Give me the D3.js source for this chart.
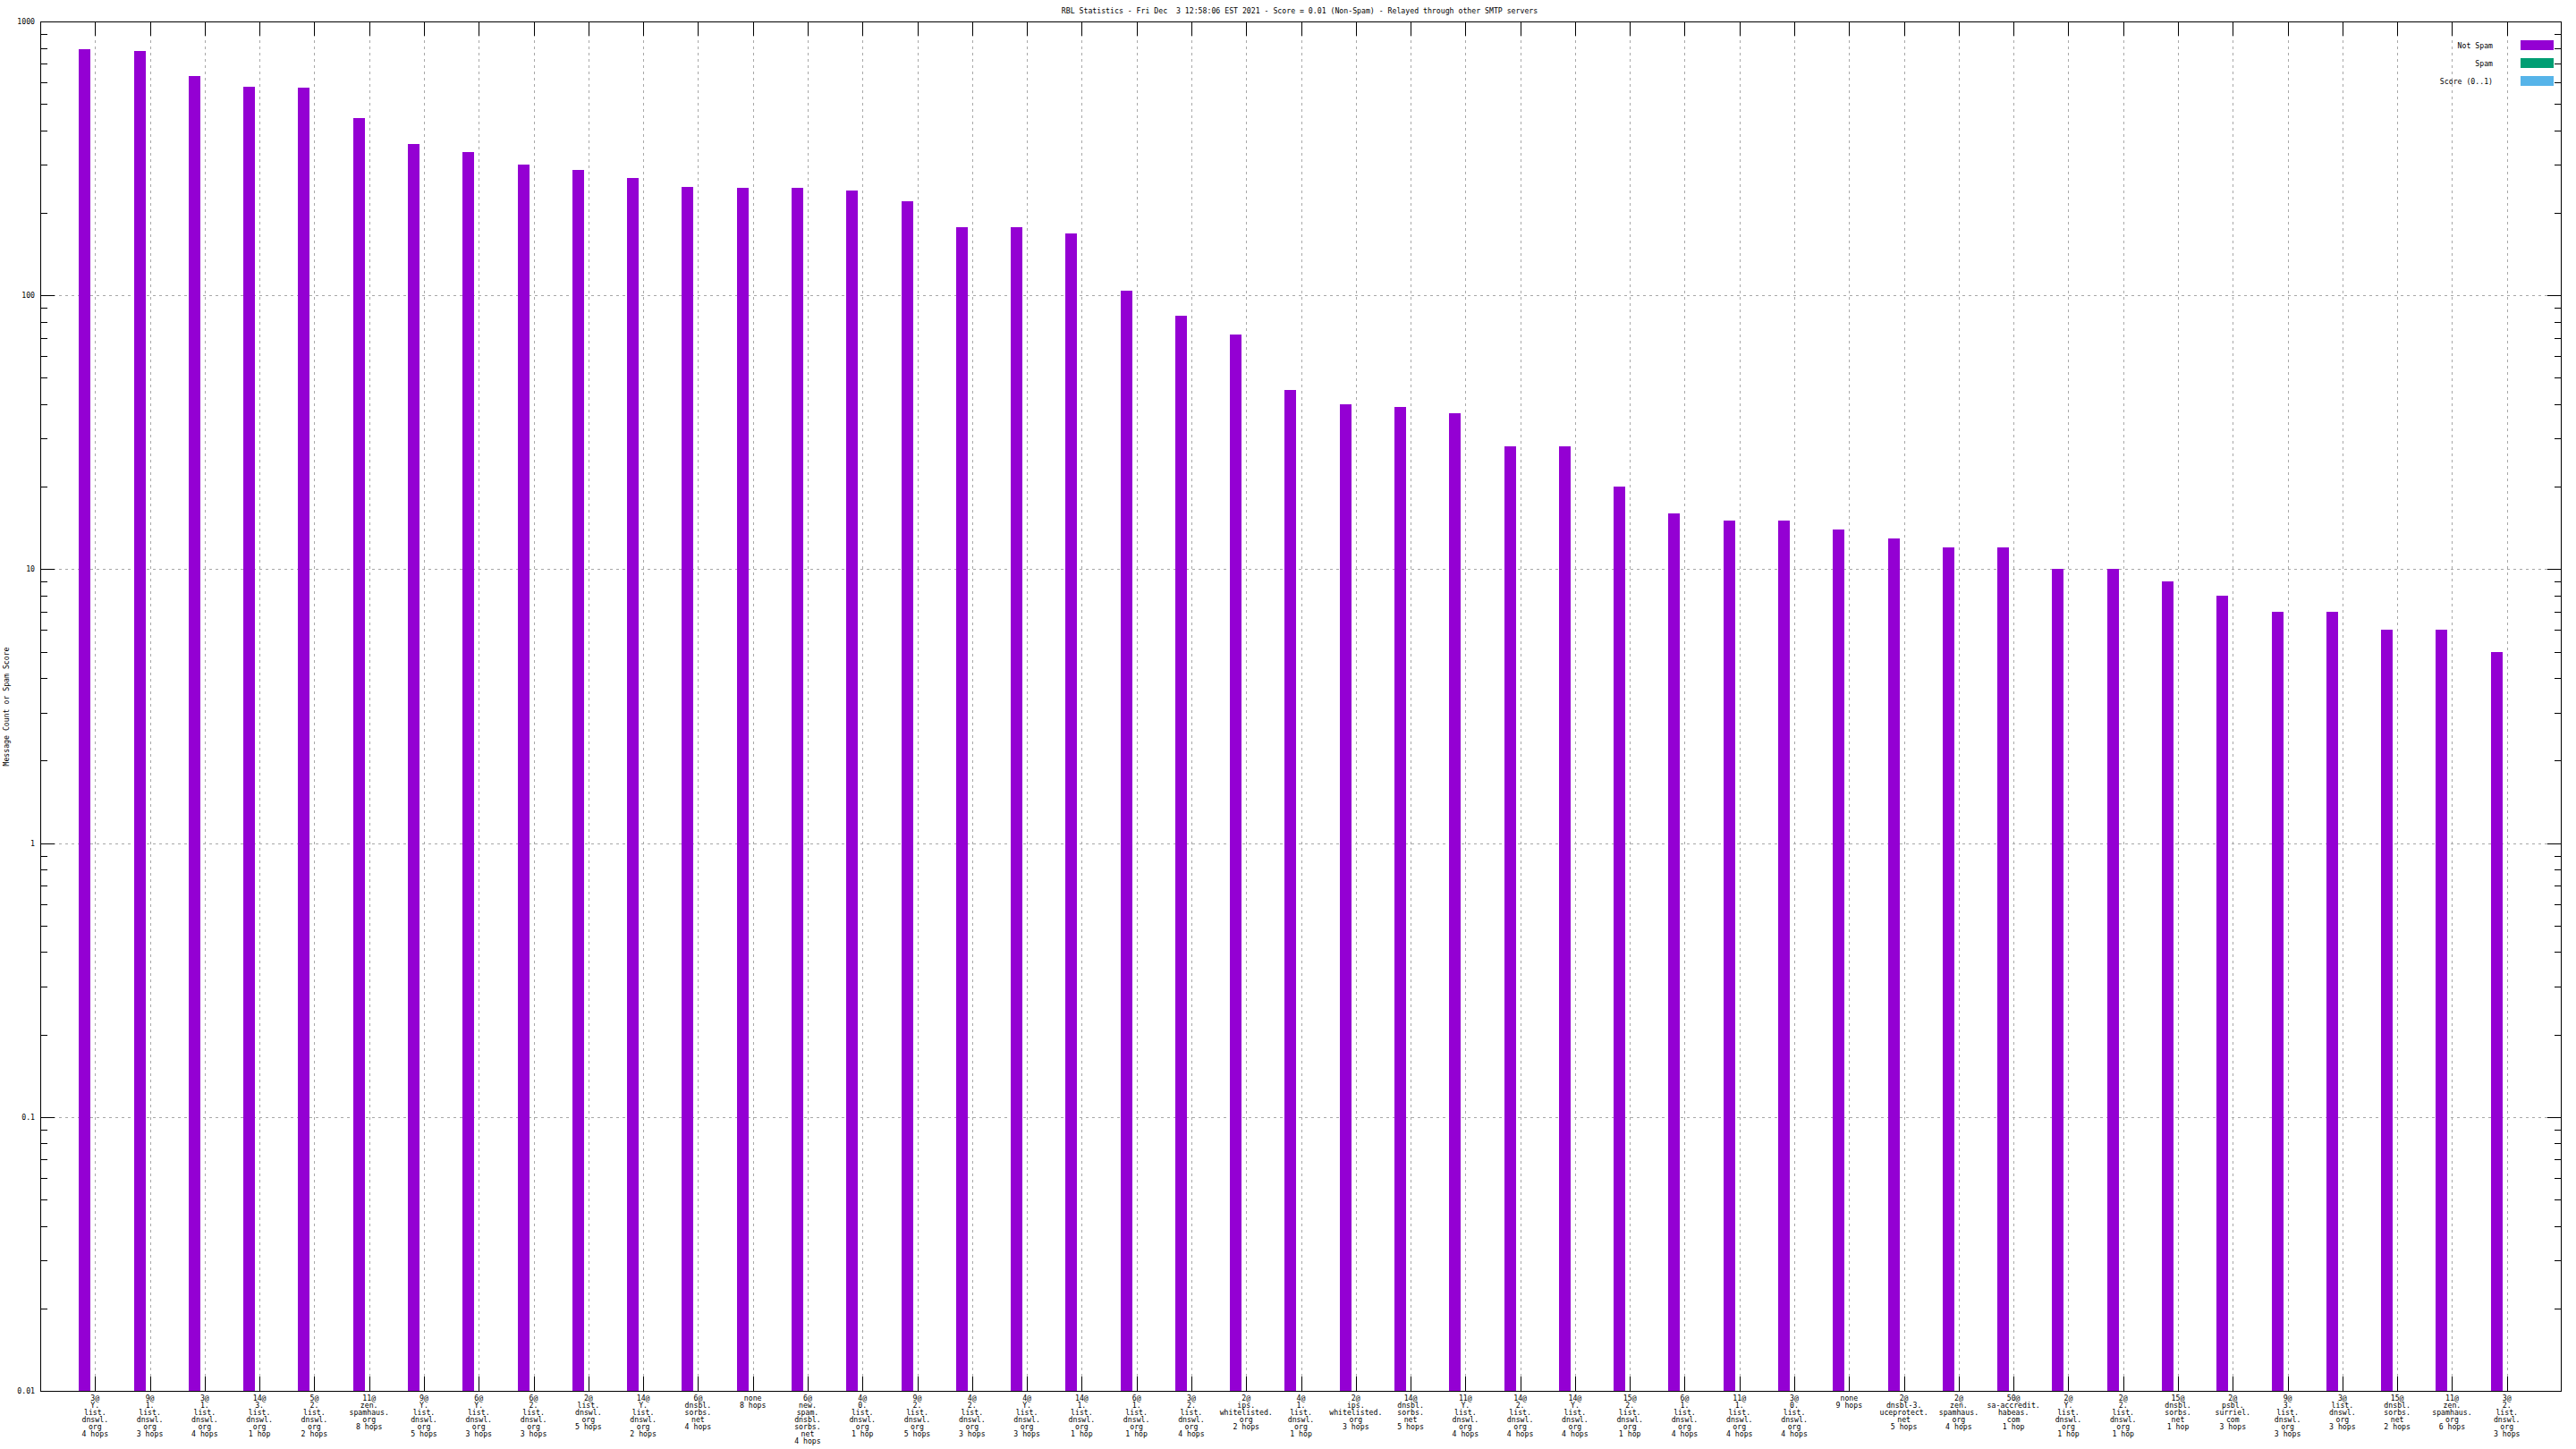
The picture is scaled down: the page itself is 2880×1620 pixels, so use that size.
<!DOCTYPE html>
<html><head><meta charset="utf-8">
<script src="https://cdn.jsdelivr.net/npm/d3@7"></script>
<style>
html,body{margin:0;padding:0;background:#fff;}
text{font-family:"DejaVu Sans Mono","Liberation Mono",monospace;font-size:8.2px;fill:#000;white-space:pre;}
</style></head>
<body>
<svg id="chart" width="2880" height="1620"></svg>
<script>
const titleText = "RBL Statistics - Fri Dec  3 12:58:06 EST 2021 - Score = 0.01 (Non-Spam) - Relayed through other SMTP servers";
const yLabel = "Message Count or Spam Score";
const categories = [
 "3@\nY.\nlist.\ndnswl.\norg\n4 hops",
 "9@\n1.\nlist.\ndnswl.\norg\n3 hops",
 "3@\n1.\nlist.\ndnswl.\norg\n4 hops",
 "14@\n3.\nlist.\ndnswl.\norg\n1 hop",
 "5@\n2.\nlist.\ndnswl.\norg\n2 hops",
 "11@\nzen.\nspamhaus.\norg\n8 hops",
 "9@\nY.\nlist.\ndnswl.\norg\n5 hops",
 "6@\nY.\nlist.\ndnswl.\norg\n3 hops",
 "6@\n2.\nlist.\ndnswl.\norg\n3 hops",
 "2@\nlist.\ndnswl.\norg\n5 hops",
 "14@\nY.\nlist.\ndnswl.\norg\n2 hops",
 "6@\ndnsbl.\nsorbs.\nnet\n4 hops",
 "none\n8 hops",
 "6@\nnew.\nspam.\ndnsbl.\nsorbs.\nnet\n4 hops",
 "4@\n0.\nlist.\ndnswl.\norg\n1 hop",
 "9@\n2.\nlist.\ndnswl.\norg\n5 hops",
 "4@\n2.\nlist.\ndnswl.\norg\n3 hops",
 "4@\nY.\nlist.\ndnswl.\norg\n3 hops",
 "14@\n1.\nlist.\ndnswl.\norg\n1 hop",
 "6@\n1.\nlist.\ndnswl.\norg\n1 hop",
 "3@\n2.\nlist.\ndnswl.\norg\n4 hops",
 "2@\nips.\nwhitelisted.\norg\n2 hops",
 "4@\n1.\nlist.\ndnswl.\norg\n1 hop",
 "2@\nips.\nwhitelisted.\norg\n3 hops",
 "14@\ndnsbl.\nsorbs.\nnet\n5 hops",
 "11@\nY.\nlist.\ndnswl.\norg\n4 hops",
 "14@\n2.\nlist.\ndnswl.\norg\n4 hops",
 "14@\nY.\nlist.\ndnswl.\norg\n4 hops",
 "15@\n2.\nlist.\ndnswl.\norg\n1 hop",
 "6@\n1.\nlist.\ndnswl.\norg\n4 hops",
 "11@\n1.\nlist.\ndnswl.\norg\n4 hops",
 "3@\n0.\nlist.\ndnswl.\norg\n4 hops",
 "none\n9 hops",
 "2@\ndnsbl-3.\nuceprotect.\nnet\n5 hops",
 "2@\nzen.\nspamhaus.\norg\n4 hops",
 "50@\nsa-accredit.\nhabeas.\ncom\n1 hop",
 "2@\nY.\nlist.\ndnswl.\norg\n1 hop",
 "2@\n2.\nlist.\ndnswl.\norg\n1 hop",
 "15@\ndnsbl.\nsorbs.\nnet\n1 hop",
 "2@\npsbl.\nsurriel.\ncom\n3 hops",
 "9@\n3.\nlist.\ndnswl.\norg\n3 hops",
 "3@\nlist.\ndnswl.\norg\n3 hops",
 "15@\ndnsbl.\nsorbs.\nnet\n2 hops",
 "11@\nzen.\nspamhaus.\norg\n6 hops",
 "3@\n2.\nlist.\ndnswl.\norg\n3 hops"
];
const notSpam = [792,781,632,578,573,444,357,334,300,287,268,249,247,247,241,221,177,177,168,104,
 84,72,45,40,39,37,28,28,20,16,15,15,14,13,12,12,10,10,9,8,7,7,6,6,5];
const spam = categories.map(() => 0);
const score = categories.map(() => 0.01);
const seriesNames = ["Not Spam", "Spam", "Score (0..1)"];
const seriesColors = ["#9400d3", "#009e73", "#56b4e9"];
const yTickValues = [0.01, 0.1, 1, 10, 100, 1000];
const yTickLabels = ["0.01", "0.1", "1", "10", "100", "1000"];

const svg = d3.select("#chart");
const L = 45, R = 2864, T = 24, B = 1555;
const x = d3.scaleLinear().domain([-1, categories.length]).range([L, R]);
const y = d3.scaleLog().domain([0.01, 1000]).range([B, T]);

// grid
const grid = svg.append("g").attr("stroke", "#a8a8a8").attr("stroke-dasharray", "3,4").attr("stroke-width", 1);
categories.forEach((c, i) => {
  grid.append("line").attr("x1", Math.round(x(i)) + 0.5).attr("x2", Math.round(x(i)) + 0.5).attr("y1", T).attr("y2", B);
});
yTickValues.forEach(v => {
  grid.append("line").attr("x1", L).attr("x2", R).attr("y1", Math.round(y(v)) + 0.5).attr("y2", Math.round(y(v)) + 0.5);
});

// bars
const unit = x(1) - x(0);
const bw = 13 / unit;
const offsets = [-0.294, -0.294 + bw, -0.294 + 2 * bw];
const seriesData = [notSpam, spam, score];
seriesData.forEach((arr, s) => {
  svg.append("g").selectAll("rect").data(arr.map((v, i) => ({v, i})).filter(d => d.v > 0))
    .join("rect")
    .attr("x", d => Math.round(x(d.i + offsets[s])))
    .attr("width", 13)
    .attr("y", d => Math.round(y(d.v)))
    .attr("height", d => Math.max(0, B - Math.round(y(d.v))))
    .attr("fill", seriesColors[s]);
});

// border
svg.append("rect").attr("x", L + 0.5).attr("y", T + 0.5).attr("width", R - L - 1).attr("height", B - T)
  .attr("fill", "none").attr("stroke", "#000").attr("stroke-width", 1);

// y ticks (major and minor), both sides
const ticks = svg.append("g").attr("stroke", "#000").attr("stroke-width", 1);
for (let e = -2; e <= 3; e++) {
  for (let m = 1; m <= 9; m++) {
    const v = m * Math.pow(10, e);
    if (v > 1000.0001) break;
    const yy = Math.round(y(v)) + 0.5;
    const len = m === 1 ? 16 : 8;
    ticks.append("line").attr("x1", L).attr("x2", L + len).attr("y1", yy).attr("y2", yy);
    ticks.append("line").attr("x1", R).attr("x2", R - len).attr("y1", yy).attr("y2", yy);
  }
}
// x ticks both sides
categories.forEach((c, i) => {
  const xx = Math.round(x(i)) + 0.5;
  ticks.append("line").attr("x1", xx).attr("x2", xx).attr("y1", B).attr("y2", B - 16);
  ticks.append("line").attr("x1", xx).attr("x2", xx).attr("y1", T).attr("y2", T + 16);
});

// y tick labels
svg.append("g").selectAll("text").data(yTickValues).join("text")
  .attr("x", 39).attr("y", d => y(d) + 3).attr("text-anchor", "end")
  .text((d, i) => yTickLabels[i]);

// x tick labels
const xl = svg.append("g");
categories.forEach((c, i) => {
  const t = xl.append("text").attr("x", x(i)).attr("y", 1566).attr("text-anchor", "middle");
  c.split("\n").forEach((line, k) => {
    t.append("tspan").attr("x", x(i)).attr("dy", k === 0 ? 0 : 8).text(line);
  });
});

// title
svg.append("text").attr("x", 1453).attr("y", 15).attr("text-anchor", "middle").text(titleText);

// y label
svg.append("text").attr("transform", "translate(10,790) rotate(-90)").attr("text-anchor", "middle").text(yLabel);

// legend
const lg = svg.append("g");
seriesNames.forEach((n, i) => {
  const cy = 50.5 + i * 20;
  lg.append("text").attr("x", 2787).attr("y", cy + 3).attr("text-anchor", "end").text(n);
  lg.append("rect").attr("x", 2818).attr("y", cy - 5.5).attr("width", 37).attr("height", 11).attr("fill", seriesColors[i]);
});
</script>
</body></html>
